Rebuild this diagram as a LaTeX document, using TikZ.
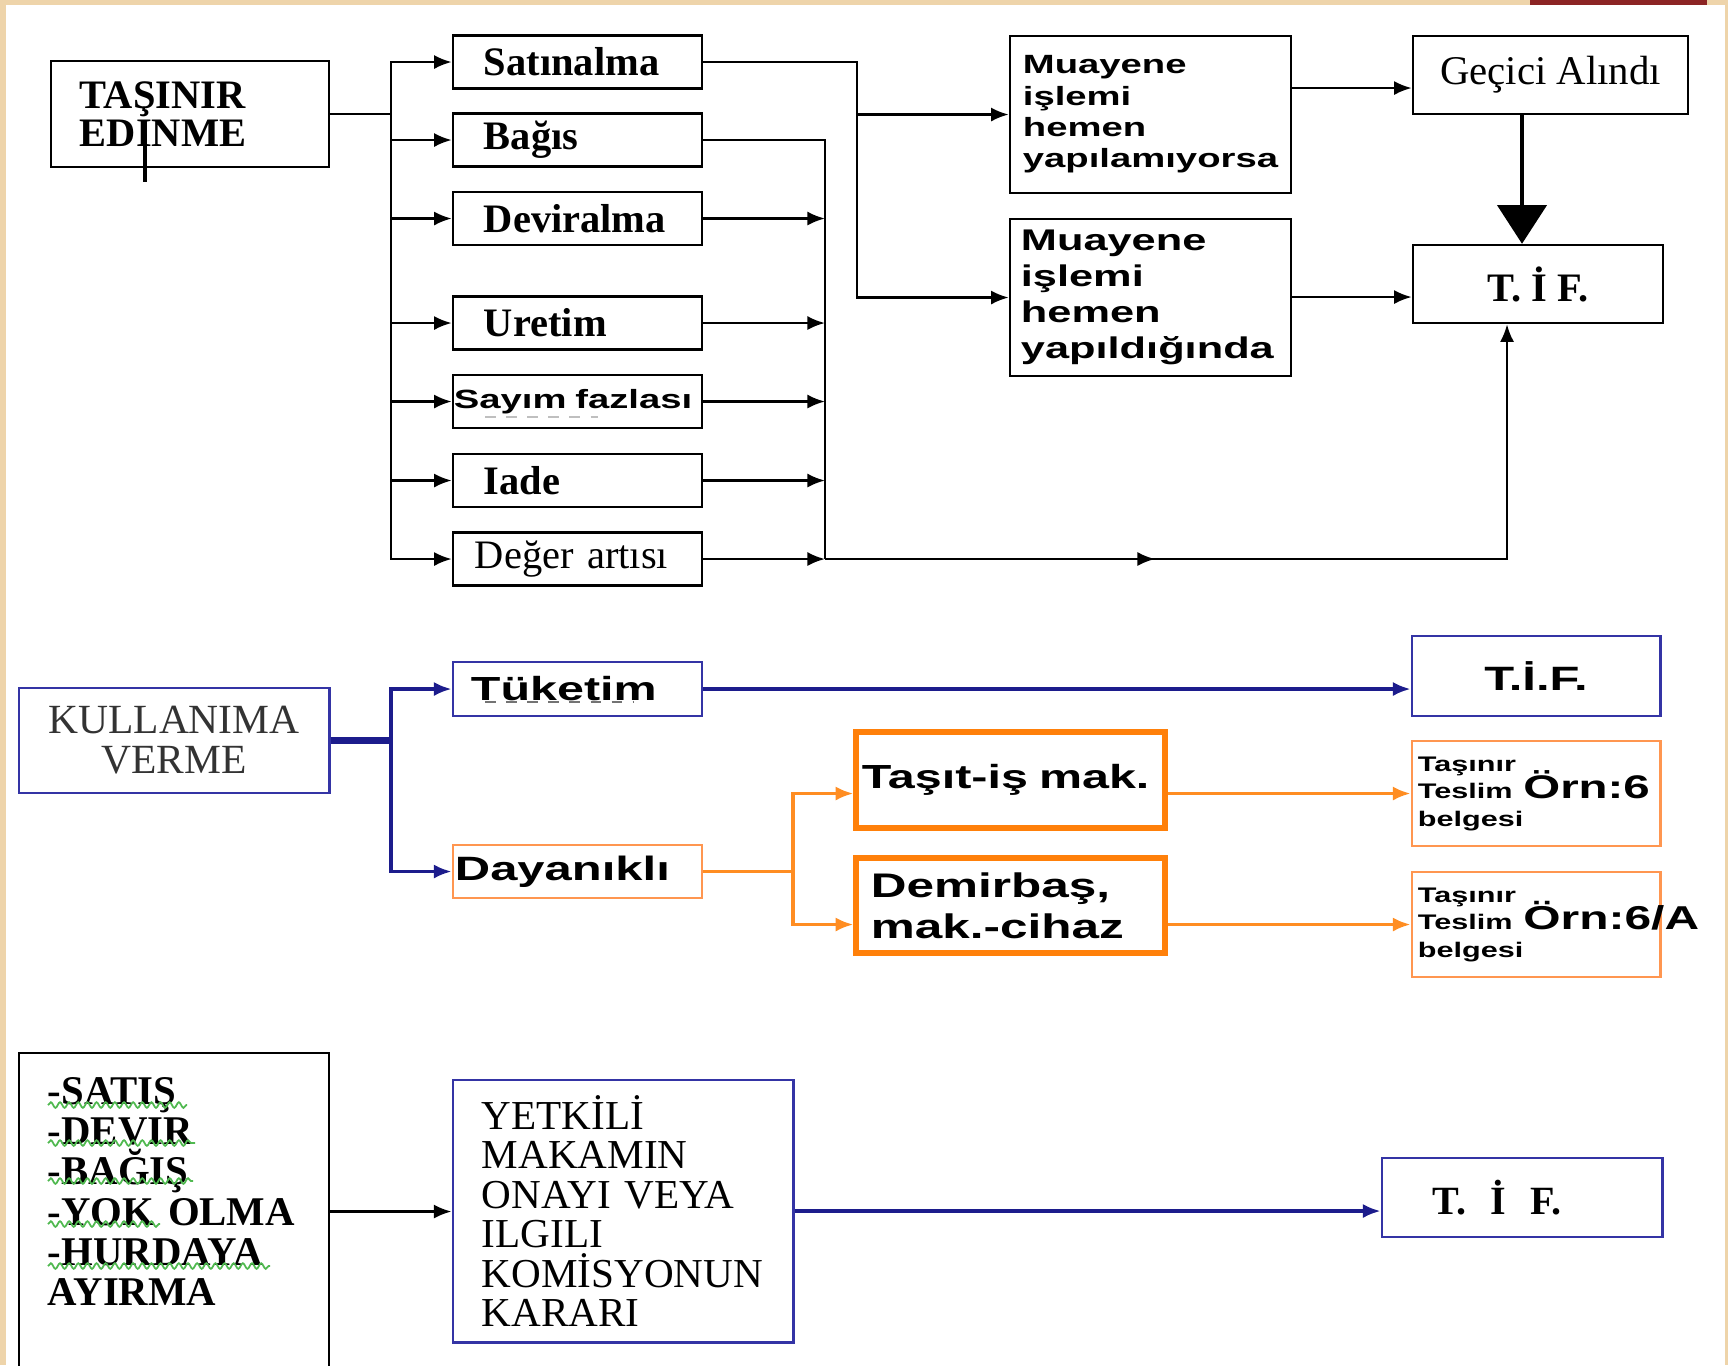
\documentclass[tikz,border=0pt]{standalone}
\usepackage{fontspec}
\setmainfont{Liberation Serif}
\newfontfamily\wsans[FakeStretch=1.45]{Liberation Sans}
\usetikzlibrary{arrows.meta,decorations.markings,decorations.pathmorphing}
\definecolor{bej}{RGB}{238,212,170}
\definecolor{kirmizi}{RGB}{140,36,36}
\definecolor{mavi}{RGB}{52,52,165}
\definecolor{lacivert}{RGB}{28,28,140}
\definecolor{turuncu}{RGB}{255,128,10}
\definecolor{acikturuncu}{RGB}{255,150,80}
\definecolor{yesil}{RGB}{80,185,80}
\newcommand\yazi[2]{\fontsize{#1}{#2}\selectfont}
\newcommand\teslim{{\yazi{6pt}{7.7pt}\begin{tabular}{@{}l@{}}Taşınır\\Teslim\\belgesi\end{tabular}}}
\tikzset{
  box/.style={draw, line width=0.7pt, inner ysep=0pt, align=left},
  kol/.style={box, minimum height=0.53cm, text width=1.87cm, inner xsep=0.31cm,
    font=\yazi{11.5pt}{11pt}\bfseries},
  ok/.style={-{Latex[length=5pt,width=4pt]}, line width=0.7pt},
  mok/.style={ok, lacivert, line width=0.9pt},
  tok/.style={ok, turuncu!90, line width=0.9pt},
  ortaok/.style={postaction={decorate}, decoration={markings,
    mark=at position 0.36 with {\arrow{Latex[length=5pt,width=4pt]}}}},
  dalga/.style={yesil, line width=0.5pt, decorate,
    decoration={snake, amplitude=0.8pt, segment length=2.6pt}}
}
\begin{document}
\begin{tikzpicture}[x=0.01cm, y=-0.01cm]
  \fill[bej] (0,0) rectangle (1728,1365);
  \fill[white] (6,5) rectangle (1725,1365);
  \fill[kirmizi] (1530,0) rectangle (1707,5);
  \useasboundingbox (0,0) rectangle (1728,1365);

  % edinme
  \node[box, text width=2.2cm, inner xsep=0.29cm, minimum height=1.06cm,
    font=\yazi{11.5pt}{10.8pt}\bfseries] (edin) at (190,114) {TAŞINIR\\EDINME};
  \draw[line width=1.2pt] (145,134) -- (145,182);
  \node[kol] (sat) at (577.5,62) {Satınalma};
  \node[kol] (bag) at (577.5,140) {Bağıs};
  \node[kol] (dev) at (577.5,218.5) {Deviralma};
  \node[kol] (ure) at (577.5,323) {Uretim};
  \node[kol, text width=2.47cm, inner xsep=0.01cm,
    font=\wsans\yazi{7.5pt}{9pt}\bfseries] (say) at (577.5,401.5) {Sayım fazlası};
  \draw[black!25, dashed, line width=0.4pt] (485,417) -- (598,417);
  \node[kol] (iad) at (577.5,480.5) {Iade};
  \node[kol, text width=2.05cm, inner xsep=0.22cm,
    font=\yazi{11.5pt}{11pt}] (deg) at (577.5,559) {Değer artısı};
  \node[box, text width=2.55cm, inner xsep=0.13cm, minimum height=1.57cm,
    font=\wsans\yazi{7.5pt}{8.9pt}\bfseries] (muy1) at (1150.5,114.5)
    {Muayene\\işlemi\\hemen\\yapılamıyorsa};
  \node[box, text width=2.59cm, inner xsep=0.11cm, minimum height=1.57cm,
    font=\wsans\yazi{8.5pt}{10.2pt}\bfseries] (muy2) at (1150.5,297.5)
    {Muayene\\işlemi\\hemen\\yapıldığında};
  \node[box, minimum width=2.75cm, minimum height=0.78cm, align=center,
    font=\yazi{11.6pt}{12pt}] (gec) at (1550.5,75) {Geçici Alındı};
  \node[box, minimum width=2.5cm, minimum height=0.78cm,
    font=\yazi{11.5pt}{12pt}\bfseries] (tif1) at (1538,284) {T. İ F.};

  \coordinate (j1) at (391,114);
  \foreach \n in {sat,bag,dev,ure,say,iad,deg}
    \draw[ok] (edin.east) -- (j1) |- (\n.west);
  \coordinate (b1) at (825,559);
  \draw[line width=0.7pt] (bag.east) -| (b1);
  \foreach \n in {dev,ure,say,iad,deg}
    \draw[ok] (\n.east) -- (\n.east -| b1);
  \coordinate (c1) at (1507,559);
  \draw[ok, ortaok] (b1) -- (c1) -- (c1 |- tif1.south);
  \coordinate (j2) at (857,62);
  \draw[ok] (sat.east) -- (j2) |- (muy1.west);
  \draw[ok] (sat.east) -- (j2) |- (muy2.west);
  \coordinate (g1) at ([yshift=-0.13cm]gec.west);
  \draw[ok] (muy1.east |- g1) -- (g1);
  \coordinate (t1) at ([yshift=-0.13cm]tif1.west);
  \draw[ok] (muy2.east |- t1) -- (t1);
  \coordinate (g2) at (1522,114);
  \draw[line width=1pt, -{Triangle[length=11pt,width=14pt]}] (g2) -- (g2 |- tif1.north);

  % kullanima verme
  \node[box, draw=mavi, line width=0.8pt, minimum width=3.1cm, minimum height=1.05cm,
    align=center, text=black!80, font=\yazi{11.8pt}{11.4pt}] (kul) at (174,740.5)
    {KULLANIMA\\VERME};
  \node[box, draw=mavi, line width=0.8pt, minimum height=0.54cm, text width=2.13cm,
    inner xsep=0.18cm, font=\wsans\yazi{9.5pt}{11pt}\bfseries] (tuk) at (577.5,689) {Tüketim};
  \draw[black!55, dashed, line width=0.8pt] (485,702) -- (634,702);
  \node[box, draw=acikturuncu, line width=0.8pt, minimum height=0.53cm, text width=2.45cm,
    inner xsep=0.02cm, font=\wsans\yazi{9.6pt}{11pt}\bfseries] (day) at (577.5,871.5) {Dayanıklı};
  \node[box, draw=turuncu, line width=1.5pt, minimum height=0.96cm, text width=2.97cm,
    inner xsep=0.06cm, font=\wsans\yazi{9.5pt}{11.7pt}\bfseries] (tas) at (1010.5,780)
    {Taşıt-iş mak.};
  \node[box, draw=turuncu, line width=1.5pt, minimum height=0.95cm, text width=2.79cm,
    inner xsep=0.15cm, font=\wsans\yazi{9.7pt}{11.7pt}\bfseries] (dem) at (1010.5,905.5)
    {Demirbaş,\\mak.-cihaz};
  \node[box, draw=mavi, line width=0.8pt, minimum width=2.48cm, minimum height=0.8cm,
    align=center, font=\wsans\yazi{9.6pt}{11pt}\bfseries] (tif2) at (1536,676) {T.İ.F.};
  \node[box, draw=acikturuncu, line width=0.8pt, minimum height=1.05cm, text width=2.36cm,
    inner xsep=0.06cm, font=\wsans\yazi{9.3pt}{11pt}\bfseries] (tb1) at (1536,793.5)
    {\teslim Örn:6};
  \node[box, draw=acikturuncu, line width=0.8pt, minimum height=1.05cm, text width=2.36cm,
    inner xsep=0.06cm, font=\wsans\yazi{9.4pt}{11pt}\bfseries] (tb2) at (1536,924.5)
    {\teslim Örn:6/A};

  \coordinate (j3) at (391,740.5);
  \draw[lacivert, line width=1.8pt] (kul.east) -- (j3);
  \draw[mok] (j3) |- (tuk.west);
  \draw[mok] (j3) |- (day.west);
  \draw[mok] (tuk.east) -- (tuk.east -| tif2.west);
  \coordinate (j4) at (793,871.5);
  \draw[tok] (day.east) -- (j4) |- (tas.west |- tb1.west);
  \draw[tok] (day.east) -- (j4) |- (dem.west |- tb2.west);
  \draw[tok] (tas.east |- tb1.west) -- (tb1.west);
  \draw[tok] (dem.east |- tb2.west) -- (tb2.west);

  % elden cikarma
  \node[box, minimum height=3.17cm, text width=2.52cm, inner xsep=0.29cm,
    font=\yazi{11.6pt}{11.4pt}\bfseries] (lst) at (174,1211.5)
    {-SATIŞ\\-DEVIR\\-BAĞIŞ\\-YOK OLMA\\-HURDAYA\\AYIRMA\\\mbox{}};
  \foreach \y/\b in {1105/187, 1143/195, 1181/193, 1224/160, 1266/270}
    \draw[dalga] (48,\y) -- (\b,\y);
  \node[box, draw=mavi, line width=0.8pt, minimum height=2.62cm, text width=2.82cm,
    inner xsep=0.29cm, font=\yazi{11.7pt}{11.2pt}] (yet) at (623,1211)
    {YETKİLİ\\MAKAMIN\\ONAYI VEYA\\ILGILI\\KOMİSYONUN\\KARARI};
  \node[box, draw=mavi, line width=0.8pt, minimum height=0.79cm, text width=1.78cm,
    inner xsep=0.51cm, font=\yazi{11.4pt}{12pt}\bfseries] (tif3) at (1522,1197.5)
    {T.\hspace{0.24cm}İ\hspace{0.24cm}F.};
  \draw[ok] (lst.east) -- (lst.east -| yet.west);
  \draw[mok] (yet.east) -- (yet.east -| tif3.west);
\end{tikzpicture}
\end{document}
